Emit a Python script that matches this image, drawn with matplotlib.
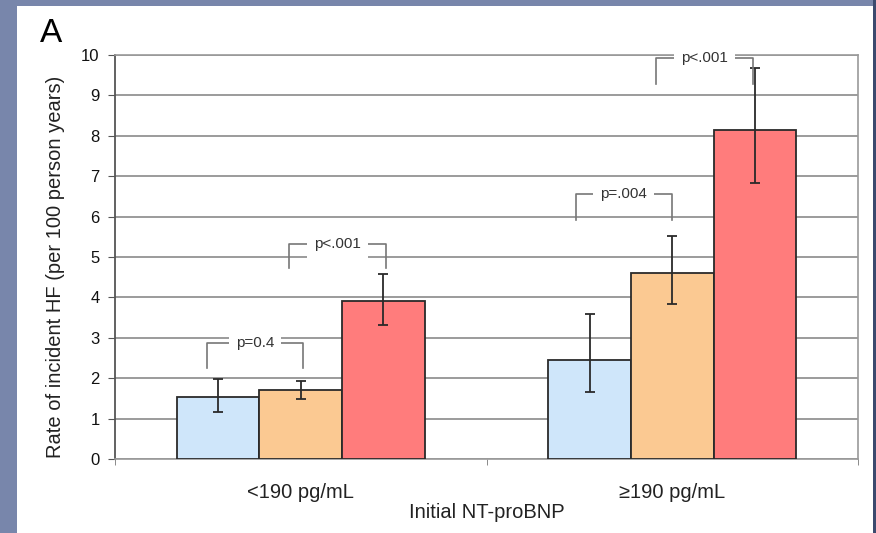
import numpy as np
import matplotlib
matplotlib.use("Agg")
import matplotlib.pyplot as plt
from matplotlib.patches import Rectangle

plt.rcParams['font.family'] = ['Liberation Sans', 'DejaVu Sans']

# data
groups = ['<190 pg/mL', '\u2265190 pg/mL']
rate_blue = [1.53, 2.45]
rate_orange = [1.71, 4.60]
rate_red = [3.91, 8.15]
lo_blue = [1.16, 1.66]
hi_blue = [1.98, 3.60]
lo_orange = [1.48, 3.84]
hi_orange = [1.93, 5.52]
lo_red = [3.32, 6.84]
hi_red = [4.59, 9.67]

# p value brackets: text, left x, right x, top y, leg bottom y
p_text = ['p=0.4', 'p<.001', 'p=.004', 'p<.001']
p_x0 = [-0.252, -0.031, 0.740, 0.956]
p_x1 = [0.007, 0.230, 0.999, 1.217]
p_top = [2.87, 5.32, 6.56, 9.93]
p_leg = [2.25, 4.73, 5.92, 9.28]

fig = plt.figure(figsize=(8.76, 5.33), dpi=100)
fig.patch.set_facecolor('#7886ab')
# white slide panel
fig.add_artist(Rectangle((17 / 876, 0), (873 - 17) / 876, 527 / 533,
                         transform=fig.transFigure, facecolor='white',
                         edgecolor='none', zorder=-10))
fig.add_artist(Rectangle((873 / 876, 0), 3 / 876, 1,
                         transform=fig.transFigure, facecolor='#3c4a6e',
                         edgecolor='none', zorder=-10))

ax = fig.add_axes([115 / 876, 74 / 533, 743 / 876, 404 / 533])
ax.set_facecolor('white')

x = np.arange(len(groups))
w = 0.2224
series = [(rate_blue, lo_blue, hi_blue, '#cfe6fa'),
          (rate_orange, lo_orange, hi_orange, '#fbc992'),
          (rate_red, lo_red, hi_red, '#ff7c7c')]
for k, (vals, lo, hi, col) in enumerate(series):
    xs = x + (k - 1) * w
    vals = np.array(vals)
    err = [vals - np.array(lo), np.array(hi) - vals]
    ax.bar(xs, vals, width=w, color=col, edgecolor='#2a2a2a', linewidth=1.3, zorder=3)
    ax.errorbar(xs, vals, yerr=err, fmt='none', ecolor='#2a2a2a',
                elinewidth=1.3, capsize=3.5, capthick=1.3, zorder=4)

for t, a, b, top, leg in zip(p_text, p_x0, p_x1, p_top, p_leg):
    ax.plot([a, a, b, b], [leg, top, top, leg], color='#777777', lw=1.2, zorder=5)
    ax.text((a + b) / 2, top, t, ha='center', va='center', fontsize=11,
            color='#333333', zorder=6,
            bbox=dict(facecolor='white', edgecolor='none', pad=5))

ax.set_xlim(-0.5, 1.5)
ax.set_ylim(0, 10)
ax.set_yticks(range(0, 11))
ax.yaxis.grid(True, color='#8a8a8a', lw=1.2, zorder=1)
ax.set_axisbelow(True)

ax.set_xticks(x)
ax.set_xticklabels(groups, fontsize=14.5, color='#222222')
ax.tick_params(axis='x', length=0, pad=17)
ax.set_xticks([-0.5, 0.5, 1.5], minor=True)
ax.tick_params(axis='x', which='minor', length=4, direction='out', color='#777777')
ax.tick_params(axis='y', length=5, direction='out', color='#555555',
               labelsize=12, labelcolor='#111111', pad=6)

for s in ['top', 'right', 'bottom']:
    ax.spines[s].set_color('#9a9a9a')
    ax.spines[s].set_linewidth(1.2)
ax.spines['left'].set_color('#555555')
ax.spines['left'].set_linewidth(1.3)

ax.set_ylabel('Rate of incident HF (per 100 person years)', fontsize=14.5,
              color='#222222')
ax.yaxis.set_label_coords(-0.067, 0.475)
ax.set_xlabel('Initial NT-proBNP', fontsize=14.5, color='#222222', labelpad=1)

fig.text(40 / 876, 1 - 34 / 533, 'A', fontsize=24, color='black', va='center')

fig.savefig('out.png', dpi=100, facecolor=fig.get_facecolor())
